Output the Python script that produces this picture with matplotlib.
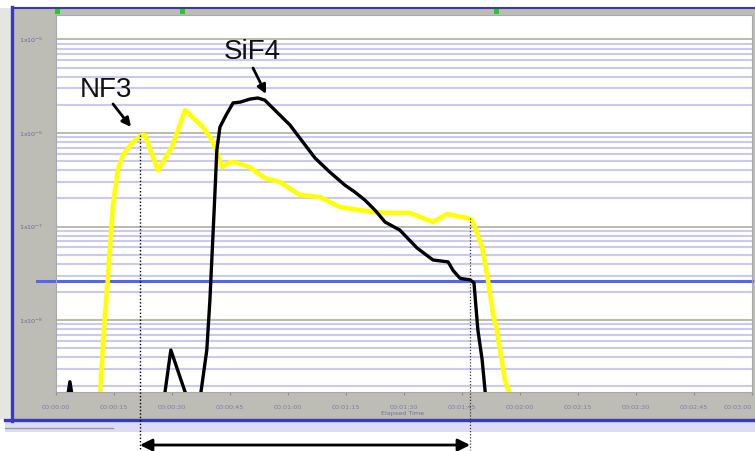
import numpy as np
import matplotlib
matplotlib.use('Agg')
import matplotlib.pyplot as plt
from matplotlib.patches import Rectangle
from matplotlib.lines import Line2D
from matplotlib.ticker import LogLocator, NullFormatter

# ---------------- data ----------------
nf3_t = [0, 11.0, 11.4, 12.4, 13.4, 14.7, 16.0, 17.3, 19.9, 22.2, 23.0, 26.4, 30.0, 33.4,
         38.0, 40.3, 41.6, 42.9, 45.0, 46.8, 50.2, 54.0, 57.9, 63.1, 68.3, 73.4, 78.6,
         82.5, 86.4, 91.5, 97.5, 101.1, 106.3, 107.6, 110.2, 111.7, 113.0, 114.0, 116.1,
         117.4, 118.0, 180]
nf3_v = [1e-9, 1e-9, 1.6e-9, 7.9e-9, 2.7e-8, 1.62e-7, 4.0e-7, 5.8e-7, 8.0e-7, 9.5e-7, 9.5e-7,
         4.0e-7, 7.1e-7, 1.76e-6, 1.16e-6, 8.4e-7, 6.3e-7, 4.3e-7, 4.9e-7, 4.8e-7, 4.3e-7,
         3.3e-7, 3.0e-7, 2.18e-7, 2.07e-7, 1.62e-7, 1.50e-7, 1.43e-7, 1.40e-7, 1.40e-7,
         1.12e-7, 1.36e-7, 1.24e-7, 1.18e-7, 6.1e-8, 2.7e-8, 1.19e-8, 7.9e-9, 2.3e-9,
         1.6e-9, 1e-9, 1e-9]

sif4_t = [0, 2.3, 3.6, 4.9, 27.4, 27.9, 29.7, 34.1, 37.2, 39.0, 39.8, 40.9, 41.6, 42.4,
          44.0, 45.8, 47.6, 50.2, 52.2, 54.0, 56.6, 60.5, 63.1, 67.0, 70.9, 74.7, 77.3,
          79.9, 82.5, 85.1, 88.9, 93.4, 97.5, 101.4, 102.7, 104.5, 107.1, 108.1, 109.1,
          110.2, 111.2, 114.8, 180]
sif4_v = [1e-9, 1e-9, 2.2e-9, 1e-9, 1e-9, 1.4e-9, 4.8e-9, 1.4e-9, 1.4e-9, 4.8e-9, 1.64e-8,
          1.50e-7, 6.6e-7, 1.16e-6, 1.56e-6, 2.1e-6, 2.14e-6, 2.31e-6, 2.37e-6, 2.25e-6,
          1.76e-6, 1.22e-6, 8.8e-7, 5.4e-7, 3.8e-7, 2.78e-7, 2.34e-7, 1.92e-7, 1.50e-7,
          1.12e-7, 9.2e-8, 5.9e-8, 4.4e-8, 4.2e-8, 3.4e-8, 2.8e-8, 2.7e-8, 2.5e-8, 7.9e-9,
          3.8e-9, 1.4e-9, 1e-9, 1e-9]

threshold = 2.6e-8
xtick_secs = list(range(0, 181, 15))
xtick_labels = ['00:00:00', '00:00:15', '00:00:30', '00:00:45', '00:01:00', '00:01:15',
                '00:01:30', '00:01:45', '00:02:00', '00:02:15', '00:02:30', '00:02:45',
                '00:03:00']
ytick_vals = [1e-8, 1e-7, 1e-6, 1e-5]
ytick_labels = ['1x10$^{-8}$', '1x10$^{-7}$', '1x10$^{-6}$', '1x10$^{-5}$']
cursor_secs = [0.5, 32.6, 114.0]
span_start, span_end = 21.7, 107.1

# ---------------- figure ----------------
W, H = 755, 451
fig = plt.figure(figsize=(W / 100, H / 100), dpi=100)
fig.patch.set_facecolor('white')

def fx(x):
    return x / W

def fy(y):
    return 1 - y / H

def rect(x0, y0, x1, y1, color, z=-2):
    fig.add_artist(Rectangle((fx(x0), fy(y1)), fx(x1) - fx(x0), fy(y0) - fy(y1),
                             transform=fig.transFigure, facecolor=color,
                             edgecolor='none', zorder=z))

def hline(x0, x1, y, color, lw, z=-1):
    fig.add_artist(Line2D([fx(x0), fx(x1)], [fy(y), fy(y)], transform=fig.transFigure,
                          color=color, lw=lw, zorder=z))

def vline(x, y0, y1, color, lw, z=-1):
    fig.add_artist(Line2D([fx(x), fx(x)], [fy(y0), fy(y1)], transform=fig.transFigure,
                          color=color, lw=lw, zorder=z))

# window frame
rect(0, 8, 11, 419, '#e6e6e0', z=-3)
rect(12, 8, 755, 419, '#bdbdb5')
rect(5, 421, 755, 432, '#dcdcf6')
hline(5, 113, 428, '#9a9a9a', 1)
hline(12, 755, 7.5, '#3a3aa8', 1.5)
vline(11.5, 7, 421, '#3a3ab8', 2.4)
hline(5, 755, 420, '#3a3ab8', 2.4)

L, R, T, B = 56, 752, 14.5, 391.5
ax = fig.add_axes([fx(L), fy(B), fx(R) - fx(L), fy(T) - fy(B)])
ax.set_facecolor('white')
ax.set_yscale('log')
ax.set_xlim(0, 180)
ax.set_ylim(1.73e-9, 1.85e-5)

ax.yaxis.set_minor_locator(LogLocator(base=10, subs=range(2, 10)))
ax.yaxis.set_minor_formatter(NullFormatter())
ax.grid(True, which='minor', axis='y', color='#c9c9f3', lw=1.5)
ax.grid(True, which='major', axis='y', color='#a9a892', lw=1.1)
ax.grid(False, axis='x')
ax.set_axisbelow(True)

for s in ax.spines.values():
    s.set_color('#a8a8b0')
    s.set_linewidth(0.8)

ax.set_xticks(xtick_secs)
ax.set_xticklabels(xtick_labels)
ax.set_yticks(ytick_vals)
ax.set_yticklabels(ytick_labels)
ax.tick_params(axis='x', which='major', length=2.5, color='#8a8aa8', labelsize=4.6,
               labelcolor='#7c7cac', pad=7)
ax.tick_params(axis='y', which='major', length=0, labelsize=4.6, labelcolor='#6c6c96', pad=9)
ax.tick_params(axis='y', which='minor', length=0)
ax.get_xticklabels()[-1].set_horizontalalignment('right')

# threshold line (extends into the frame on the left)
ax.plot([-5, 180], [threshold, threshold], color='#5566ee', lw=2.2, clip_on=False, zorder=2.5)
ax.plot(nf3_t, nf3_v, color='#ffff00', lw=3.3, solid_joinstyle='round', zorder=3)
ax.plot(sif4_t, sif4_v, color='black', lw=2.4, solid_joinstyle='round', zorder=4)

# cursor markers on the top strip
for c in cursor_secs:
    xp = L + c / 180 * (R - L)
    rect(xp - 2.5, 9, xp + 2.5, 14, '#22cc22', z=5)

fig.text(fx(403), fy(414), 'Elapsed Time', fontsize=4.6, color='#7070a0',
         ha='center', va='center')

# annotations
fig.text(fx(106), fy(90), 'NF3', fontsize=20, family='Liberation Sans',
         ha='center', va='center', color='#111111')
fig.text(fx(252), fy(52), 'SiF4', fontsize=20, family='Liberation Sans',
         ha='center', va='center', color='#111111')
ax.annotate('', xy=(fx(131), fy(127)), xycoords='figure fraction',
            xytext=(fx(113), fy(104)), textcoords='figure fraction',
            arrowprops=dict(arrowstyle='-|>', color='black', lw=2, mutation_scale=13,
                            shrinkA=0, shrinkB=0), annotation_clip=False)
ax.annotate('', xy=(fx(266), fy(94)), xycoords='figure fraction',
            xytext=(fx(253), fy(68)), textcoords='figure fraction',
            arrowprops=dict(arrowstyle='-|>', color='black', lw=2, mutation_scale=13,
                            shrinkA=0, shrinkB=0), annotation_clip=False)

ax.plot([span_start, span_start], [9.5e-7, 4.1e-10], ls=(0, (1, 1.5)), lw=1, color='black',
        clip_on=False, zorder=6)
ax.plot([span_end, span_end], [1.24e-7, 4.1e-10], ls=(0, (1, 1.5)), lw=0.9, color='#333333',
        clip_on=False, zorder=6)
ax.annotate('', xy=(span_end, -0.142), xycoords=('data', 'axes fraction'),
            xytext=(span_start, -0.142), textcoords=('data', 'axes fraction'),
            arrowprops=dict(arrowstyle='<|-|>', color='black', lw=2, mutation_scale=18,
                            shrinkA=0, shrinkB=0), annotation_clip=False)

fig.savefig('out.png', dpi=100, facecolor='white')
